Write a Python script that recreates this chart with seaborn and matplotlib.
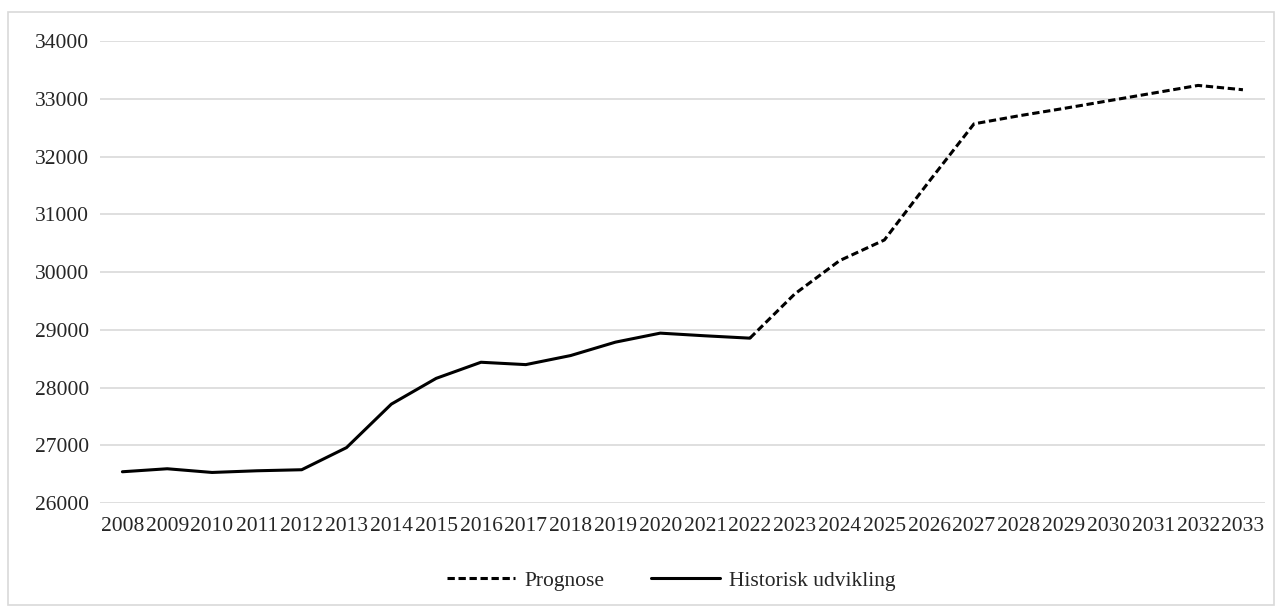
import pandas as pd
import numpy as np
import matplotlib.pyplot as plt
import seaborn as sns
from matplotlib.patches import Rectangle

hist_years = list(range(2008, 2023))
hist_values = [26542, 26594, 26530, 26559, 26577, 26960, 27713, 28159, 28438,
               28397, 28554, 28786, 28942, 28896, 28855]
prog_years = list(range(2022, 2034))
prog_values = [28855, 29620, 30197, 30555, 31570, 32566, 32705, 32832, 32965,
               33098, 33231, 33156]

df = pd.concat([
    pd.DataFrame({'year': prog_years, 'value': prog_values, 'serie': 'Prognose'}),
    pd.DataFrame({'year': hist_years, 'value': hist_values, 'serie': 'Historisk udvikling'}),
])

sns.set_style('white')
plt.rcParams['font.family'] = ['Liberation Serif', 'DejaVu Serif']
fs = 15.5

fig = plt.figure(figsize=(12.82, 6.12), dpi=100)
ax = fig.add_axes([0.078, 0.178, 0.909, 0.755])

sns.lineplot(data=df, x='year', y='value', hue='serie', style='serie',
             palette={'Prognose': 'black', 'Historisk udvikling': 'black'},
             dashes={'Prognose': (2.4, 1.2), 'Historisk udvikling': ''},
             linewidth=2.2, ax=ax)

ax.set_xlim(2007.5, 2033.5)
ax.set_ylim(26000, 34000)
ax.set_yticks(range(26000, 34001, 1000))
ax.set_xticks(range(2008, 2034))
ax.set_xticklabels([str(y) for y in range(2008, 2034)])
ax.grid(axis='y', color='#d9d9d9', linewidth=1.2)
ax.set_axisbelow(True)
for s in ax.spines.values():
    s.set_visible(False)
ax.tick_params(axis='both', length=0, labelsize=fs, colors='#262626')
ax.tick_params(axis='y', pad=8)
ax.tick_params(axis='x', pad=10)
ax.set_xlabel('')
ax.set_ylabel('')

ax.legend(loc='center', bbox_to_anchor=(0.49, -0.168), ncol=2, frameon=False,
          fontsize=fs, handlelength=3.2, columnspacing=2.2, handletextpad=0.4)

fig.patches.append(Rectangle((0.006, 0.011), 0.988, 0.97, transform=fig.transFigure,
                             fill=False, edgecolor='#d9d9d9', linewidth=1.2))

plt.savefig('out.png')
